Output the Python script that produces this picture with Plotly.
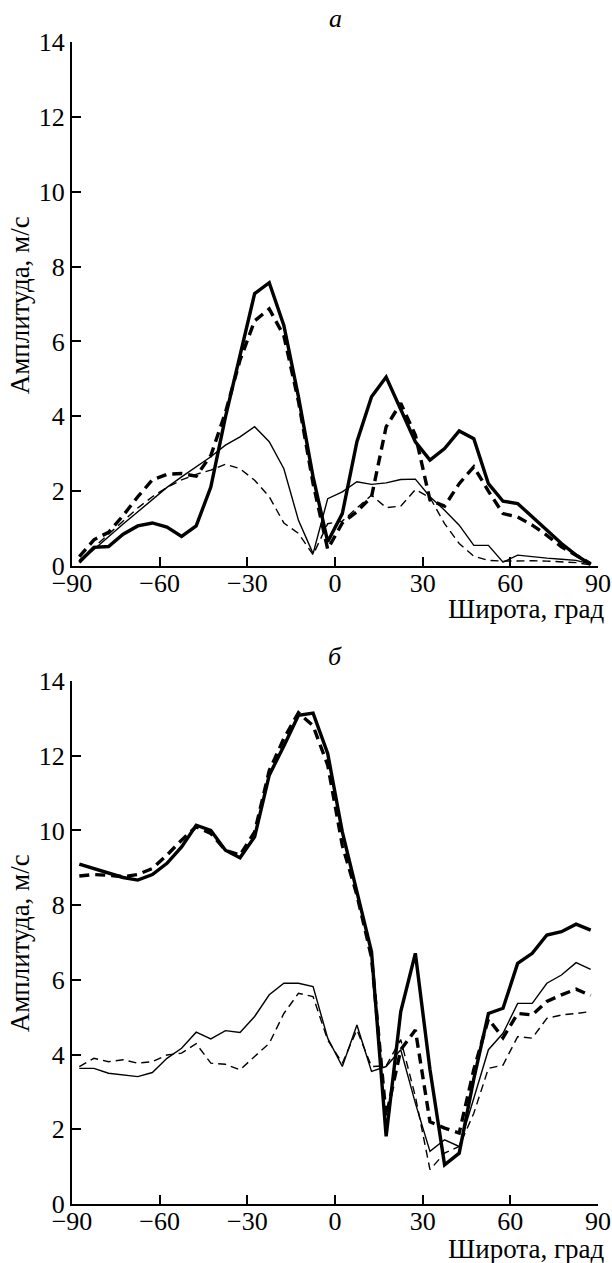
import plotly.graph_objects as go

lat = [-87.5 + 5 * i for i in range(36)]

# Panel а
a_thick_solid = [0.10, 0.50, 0.52, 0.85, 1.07, 1.15, 1.04, 0.79, 1.07, 2.11, 3.98, 5.68,
                 7.28, 7.57, 6.43, 4.52, 2.38, 0.65, 1.40, 3.32, 4.52, 5.05, 4.16, 3.32,
                 2.83, 3.14, 3.61, 3.40, 2.20, 1.73, 1.67, 1.31, 0.95, 0.60, 0.29, 0.04]
a_thick_dash = [0.25, 0.70, 0.90, 1.35, 1.85, 2.30, 2.45, 2.47, 2.40, 2.95, 4.10, 5.50,
                6.55, 6.87, 6.15, 4.40, 2.20, 0.45, 1.15, 1.45, 1.85, 3.72, 4.35, 3.50,
                1.76, 1.60, 2.20, 2.65, 2.00, 1.40, 1.31, 1.09, 0.82, 0.51, 0.29, 0.06]
a_thin_solid = [0.10, 0.45, 0.78, 1.12, 1.45, 1.76, 2.10, 2.38, 2.65, 2.92, 3.23, 3.45,
                3.72, 3.32, 2.60, 1.22, 0.33, 1.80, 1.98, 2.25, 2.18, 2.22, 2.31, 2.32,
                1.85, 1.49, 1.09, 0.55, 0.55, 0.10, 0.29, 0.24, 0.21, 0.18, 0.15, 0.05]
a_thin_dash = [0.15, 0.50, 0.85, 1.20, 1.55, 1.85, 2.10, 2.30, 2.45, 2.56, 2.72, 2.60,
               2.29, 1.85, 1.15, 0.87, 0.30, 1.13, 1.20, 1.55, 1.89, 1.56, 1.60, 2.04,
               1.83, 1.13, 0.60, 0.26, 0.15, 0.13, 0.14, 0.14, 0.13, 0.12, 0.09, 0.03]

# Panel б
b_thick_solid = [9.10, 8.98, 8.85, 8.74, 8.67, 8.82, 9.12, 9.56, 10.14, 10.00, 9.47, 9.27,
                 9.83, 11.48, 12.26, 13.08, 13.14, 12.06, 9.96, 8.36, 6.75, 1.81, 5.15, 6.71,
                 3.60, 1.05, 1.36, 3.35, 5.10, 5.24, 6.44, 6.71, 7.20, 7.29, 7.49, 7.33]
b_thick_dash = [8.78, 8.82, 8.80, 8.76, 8.82, 8.98, 9.34, 9.74, 10.10, 9.92, 9.47, 9.34,
                9.96, 11.60, 12.46, 13.15, 12.80, 11.75, 9.60, 8.27, 6.60, 2.34, 4.13, 4.66,
                2.20, 2.03, 1.90, 3.60, 4.95, 4.45, 5.10, 5.06, 5.42, 5.60, 5.75, 5.58]
b_thin_solid = [3.63, 3.63, 3.50, 3.46, 3.41, 3.52, 3.90, 4.17, 4.60, 4.42, 4.64, 4.59,
                5.02, 5.60, 5.91, 5.91, 5.82, 4.44, 3.68, 4.79, 3.55, 3.68, 4.13, 2.70,
                1.41, 1.72, 1.54, 2.83, 4.13, 4.57, 5.37, 5.37, 5.91, 6.13, 6.46, 6.28]
b_thin_dash = [3.68, 3.90, 3.81, 3.86, 3.77, 3.81, 3.99, 4.04, 4.29, 3.77, 3.74, 3.59,
               3.95, 4.30, 5.10, 5.64, 5.55, 4.39, 3.77, 4.66, 3.68, 3.70, 4.40, 2.88,
               0.92, 1.36, 1.54, 2.43, 3.63, 3.72, 4.48, 4.44, 4.97, 5.06, 5.10, 5.15]

x_ticks = [-90, -60, -30, 0, 30, 60, 90]
y_ticks = [0, 2, 4, 6, 8, 10, 12, 14]
panel_titles = ["а", "б"]
x_title = "Широта, град"
y_title = "Амплитуда, м/с"

FONT = "Liberation Serif, Times New Roman, serif"
W, H = 612, 1263
# page coordinates of the plot areas (body margin removed below)
PL, PR = 71.7, 598.5
PT, PB = 42, 1204
ML, MT = PL, PT
MR = W - PR
MB = H - PB
PH = PB - PT

def pfy(py):
    return (PB - py) / PH

fig = go.Figure()

styles = [
    (3.4, "solid"),
    (3.4, "10px,6px"),
    (1.4, "solid"),
    (1.4, "8px,5px"),
]

for (xa, ya), series in [(("x", "y"), [a_thick_solid, a_thick_dash, a_thin_solid, a_thin_dash]),
                         (("x2", "y2"), [b_thick_solid, b_thick_dash, b_thin_solid, b_thin_dash])]:
    for vals, (w, d) in zip(series, styles):
        fig.add_trace(go.Scatter(x=lat, y=vals, xaxis=xa, yaxis=ya, mode="lines",
                                 line=dict(color="black", width=w, dash=d),
                                 showlegend=False, hoverinfo="skip"))

axis_common = dict(showline=True, linecolor="black", linewidth=2, ticks="inside",
                   ticklen=9, tickwidth=2, tickcolor="black", showgrid=False, zeroline=False,
                   automargin=False,
                   tickfont=dict(family=FONT, size=26, color="black"), mirror=False)

dom_a = [pfy(566), 1.0]
dom_b = [0.0, pfy(681)]

xax = dict(domain=[0, 1], range=[-90, 90], tickvals=x_ticks, ticklabelstandoff=-7, **axis_common)
yax = dict(range=[0, 14], tickvals=y_ticks, **axis_common)

fig.update_layout(
    template="none",
    width=W, height=H, autosize=False, paper_bgcolor="white", plot_bgcolor="white",
    margin=dict(l=ML, r=MR, t=MT, b=MB, pad=0),
    xaxis=dict(anchor="y", **xax),
    yaxis=dict(domain=dom_a, anchor="x", **yax),
    xaxis2=dict(anchor="y2", **xax),
    yaxis2=dict(domain=dom_b, anchor="x2", **yax),
)

ann = []
for i, (xr, ty) in enumerate([("x", 19), ("x2", 656)]):
    ann.append(dict(text="<i>%s</i>" % panel_titles[i], xref=xr, x=0,
                    yref="paper", y=pfy(ty), xanchor="center", yanchor="middle",
                    showarrow=False, font=dict(family=FONT, size=26, color="black")))
for ty in [609, 1249]:
    ann.append(dict(text=x_title, xref="paper", x=1, xshift=8.5, yref="paper", y=pfy(ty),
                    xanchor="right", yanchor="middle", showarrow=False,
                    font=dict(family=FONT, size=27, color="black")))
for ty in [305, 943]:
    ann.append(dict(text=y_title, xref="paper", x=0, xshift=-51.7, yref="paper", y=pfy(ty),
                    xanchor="center", yanchor="middle", textangle=-90, showarrow=False,
                    font=dict(family=FONT, size=27, color="black")))
fig.update_layout(annotations=ann)

fig.write_html(
    "out.html",
    config={"responsive": False, "displayModeBar": False},
    post_script="document.body.style.margin='0';document.documentElement.style.overflow='hidden';document.body.style.overflow='hidden';",
)
